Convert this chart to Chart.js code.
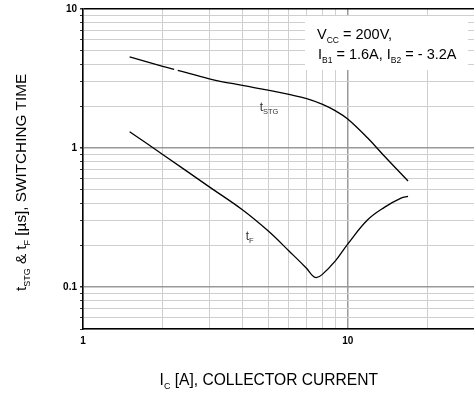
<!DOCTYPE html>
<html><head><meta charset="utf-8">
<script src="https://cdn.jsdelivr.net/npm/chart.js@4/dist/chart.umd.min.js"></script>
<style>
html,body{margin:0;padding:0;background:#fff;overflow:hidden;}
#wrap{position:relative;width:480px;height:398px;}
</style></head><body>
<div id="wrap"><canvas id="c"></canvas></div>
<script>
// ---- data ----
const icStg = [1.5, 2, 2.21, 2.28, 3, 4, 5, 6, 7, 8, 9, 10, 11.9, 13.8, 16.9];
const tStg  = [4.53, 3.87, 3.68, 3.62, 3.15, 2.82, 2.61, 2.43, 2.27, 2.07, 1.85, 1.62, 1.18, 0.87, 0.58];
const icF   = [1.5, 2, 3, 4, 5, 6, 7, 7.3, 7.6, 8, 9, 10, 11.9, 13.8, 15.9, 16.9];
const tF    = [1.31, 0.9, 0.526, 0.36, 0.254, 0.182, 0.136, 0.123, 0.117, 0.123, 0.155, 0.204, 0.305, 0.376, 0.436, 0.45];
const xTickValues = [1, 2, 3, 4, 5, 6, 7, 8, 9, 10, 20, 30];
const xLabelValues = [1, 10];
const yTickValues = [0.05, 0.06, 0.07, 0.08, 0.09, 0.1, 0.2, 0.3, 0.4, 0.5, 0.6, 0.7, 0.8, 0.9,
                     1, 2, 3, 4, 5, 6, 7, 8, 9, 10];
const yLabelValues = [0.1, 1, 10];
const stgGapSegment = 2; // small break in the t_STG trace (segment index)

const FONT = "'Liberation Sans', Arial, sans-serif";

function drawRich(ctx, parts, x, y, align, size, subSize, subDy, color) {
  ctx.fillStyle = color;
  ctx.textBaseline = 'alphabetic';
  ctx.textAlign = 'left';
  let w = 0;
  const ws = parts.map(p => {
    ctx.font = (p[1] ? subSize : size) + 'px ' + FONT;
    const m = ctx.measureText(p[0]).width; w += m; return m;
  });
  let cx = align === 'center' ? x - w / 2 : x;
  parts.forEach((p, i) => {
    ctx.font = (p[1] ? subSize : size) + 'px ' + FONT;
    ctx.fillText(p[0], cx, y + (p[1] ? subDy : 0));
    cx += ws[i];
  });
}

const annot = {
  id: 'annot',
  afterDatasetsDraw(chart) {
    const ctx = chart.ctx;
    const xs = chart.scales.x, ys = chart.scales.y;
    ctx.save();
    // condition box
    ctx.fillStyle = '#fff';
    ctx.fillRect(305, 16, 163, 54);
    drawRich(ctx, [['V', 0], ['CC', 1], [' = 200V,', 0]], 317, 39, 'left', 14.5, 8.5, 4, '#000');
    drawRich(ctx, [['I', 0], ['B1', 1], [' = 1.6A, I', 0], ['B2', 1], [' = - 3.2A', 0]], 318, 59, 'left', 14.5, 8.5, 4, '#000');
    // curve labels
    drawRich(ctx, [['t', 0], ['STG', 1]], xs.getPixelForValue(4.65), ys.getPixelForValue(1.86), 'left', 12, 7.5, 3, '#333');
    drawRich(ctx, [['t', 0], ['F', 1]], xs.getPixelForValue(4.12), ys.getPixelForValue(0.22), 'left', 12, 7.5, 3, '#333');
    // axis titles
    drawRich(ctx, [['I', 0], ['C', 1], [' [A], COLLECTOR CURRENT', 0]], 268.8, 385, 'center', 15.6, 9, 4, '#000');
    ctx.translate(26, 182.5);
    ctx.rotate(-Math.PI / 2);
    drawRich(ctx, [['t', 0], ['STG', 1], [' & t', 0], ['F', 1], [' [\u00b5s], SWITCHING TIME', 0]], 0, 0, 'center', 15.3, 9, 4, '#000');
    ctx.restore();
  }
};

const isMajor = v => [0.1, 1, 10].some(m => Math.abs(v - m) < 1e-9);

new Chart(document.getElementById('c'), {
  type: 'line',
  data: {
    datasets: [
      {
        label: 'tSTG',
        data: icStg.map((x, i) => ({ x, y: tStg[i] })),
        borderColor: '#000', borderWidth: 1.3, pointRadius: 0, fill: false,
        tension: 0.4,
        segment: { borderColor: c => c.p0DataIndex === stgGapSegment ? 'rgba(0,0,0,0)' : '#000' }
      },
      {
        label: 'tF',
        data: icF.map((x, i) => ({ x, y: tF[i] })),
        borderColor: '#000', borderWidth: 1.3, pointRadius: 0, fill: false,
        tension: 0.4
      }
    ]
  },
  options: {
    responsive: true, maintainAspectRatio: false, animation: false,
    layout: { padding: { top: 9, right: 3, left: 0, bottom: 0 } },
    plugins: { legend: { display: false }, tooltip: { enabled: false } },
    scales: {
      x: {
        type: 'logarithmic', min: 1, max: 30,
        afterBuildTicks: s => { s.ticks = xTickValues.map(v => ({ value: v })); },
        afterFit: s => { s.height = 69; },
        ticks: {
          autoSkip: false, maxRotation: 0, padding: 6, color: '#000',
          font: { family: FONT, size: 10, weight: 'bold' },
          callback: v => xLabelValues.includes(v) ? String(v) : ''
        },
        grid: {
          drawTicks: false,
          color: c => (c.tick && isMajor(c.tick.value)) ? '#999' : '#cfcfcf',
          lineWidth: c => (c.tick && isMajor(c.tick.value)) ? 1.5 : 1
        },
        border: { color: '#000', width: 1.5 }
      },
      y: {
        type: 'logarithmic', min: 0.05, max: 10,
        afterBuildTicks: s => { s.ticks = yTickValues.map(v => ({ value: v })); },
        afterFit: s => { s.width = 83; },
        ticks: {
          autoSkip: false, padding: 3, color: '#000',
          font: { family: FONT, size: 10, weight: 'bold' },
          callback: v => yLabelValues.some(m => Math.abs(m - v) < 1e-9) ? String(v) : ''
        },
        grid: {
          tickLength: 3, tickColor: '#333',
          color: c => {
            if (!c.tick) return '#cfcfcf';
            if (Math.abs(c.tick.value - 10) < 1e-9) return '#000';
            return isMajor(c.tick.value) ? '#999' : '#cfcfcf';
          },
          lineWidth: c => (c.tick && isMajor(c.tick.value)) ? 1.5 : 1
        },
        border: { color: '#000', width: 1.5 }
      }
    }
  },
  plugins: [annot]
});
</script>
</body></html>
